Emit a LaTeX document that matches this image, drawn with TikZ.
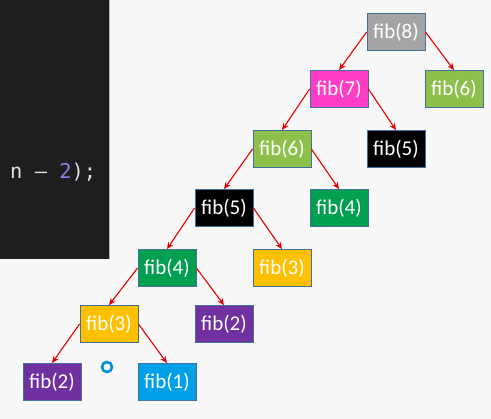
\documentclass[tikz,border=0pt]{standalone}
\usepackage{fontspec}
\setmainfont{Carlito}
\newfontfamily\codefont{DejaVu Sans Mono}
\usetikzlibrary{arrows.meta}
\definecolor{bg}{HTML}{F7F7F7}
\definecolor{panel}{HTML}{1E1E21}
\definecolor{edge}{HTML}{41719C}
\definecolor{cgray}{HTML}{A5A5A5}
\definecolor{cmag}{HTML}{FF3EC8}
\definecolor{clime}{HTML}{8DC04B}
\definecolor{cgreen}{HTML}{00A050}
\definecolor{cyel}{HTML}{FFC000}
\definecolor{cpur}{HTML}{7030A0}
\definecolor{cblue}{HTML}{00A0E8}
\definecolor{cnum}{HTML}{8E80E0}
\definecolor{ccode}{HTML}{E0E0E0}
\tikzset{
  fibbox/.style={draw=edge, line width=0.8pt, minimum width=58pt, minimum height=37pt,
     inner sep=0pt, text=white, font=\fontsize{21}{23}\selectfont},
  link/.style={draw=red!90!black, line width=1.1pt, -{Stealth[length=7pt,width=6pt]}}
}
\begin{document}
\begin{tikzpicture}[x=1pt,y=-1pt]
\fill[bg] (0,0) rectangle (491,419);
\useasboundingbox (0,0) rectangle (491,419);
\fill[panel] (0,0) rectangle (109,259);
\draw[gray!60, line width=0.8pt] (109,0) -- (109,259);
\node[anchor=west, text=ccode, font=\codefont\fontsize{20.4}{22}\selectfont, inner sep=0pt] (code) at (10,172) {n – \textcolor{cnum}{2});};

\node[fibbox, fill=cgray]  (f8)  at (396,32)  {fib(8)};
\node[fibbox, fill=cmag]   (f7)  at (339,89)  {fib(7)};
\node[fibbox, fill=clime]  (f6r) at (454,89)  {fib(6)};
\node[fibbox, fill=clime]  (f6)  at (282,149) {fib(6)};
\node[fibbox, fill=black]  (f5r) at (396,149) {fib(5)};
\node[fibbox, fill=black]  (f5)  at (224,208) {fib(5)};
\node[fibbox, fill=cgreen] (f4r) at (339,208) {fib(4)};
\node[fibbox, fill=cgreen] (f4)  at (167,268) {fib(4)};
\node[fibbox, fill=cyel]   (f3r) at (282,268) {fib(3)};
\node[fibbox, fill=cyel]   (f3)  at (109,324) {fib(3)};
\node[fibbox, fill=cpur]   (f2r) at (224,324) {fib(2)};
\node[fibbox, fill=cpur]   (f2)  at (52,382)  {fib(2)};
\node[fibbox, fill=cblue]  (f1)  at (167,382) {fib(1)};

\node[circle, draw=cblue!90!black, line width=2.6pt, minimum size=10pt, inner sep=0pt] (dot) at (107,367) {};

\foreach \p/\l/\r in {f8/f7/f6r, f7/f6/f5r, f6/f5/f4r, f5/f4/f3r, f4/f3/f2r, f3/f2/f1}{
  \draw[link] (\p.west) -- (\l.north);
  \draw[link] (\p.east) -- (\r.north);
}
\end{tikzpicture}
\end{document}
